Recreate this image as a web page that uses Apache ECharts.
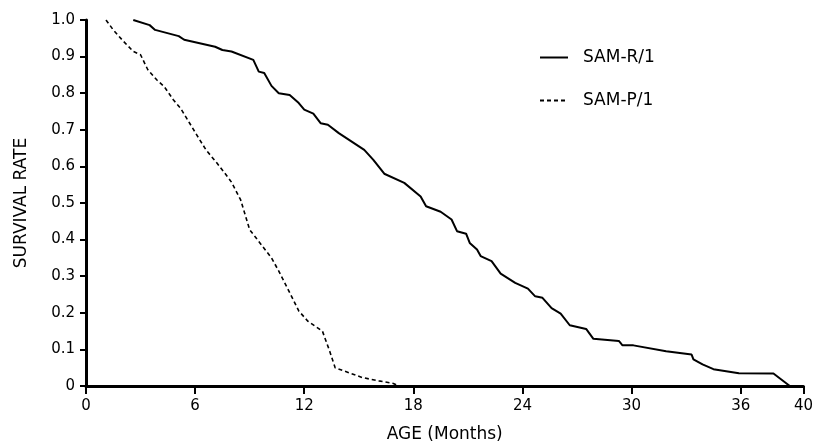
<!DOCTYPE html>
<html>
<head>
<meta charset="utf-8">
<script src="https://cdn.jsdelivr.net/npm/echarts@6/dist/echarts.min.js"></script>
<style>
  html, body { margin: 0; padding: 0; background: #fff; }
  #chart { width: 816px; height: 448px; }
</style>
</head>
<body>
<div id="chart"></div>
<script>
// 生存曲线 (SAM-R/1 vs SAM-P/1)
var seriesNames = ['SAM-R/1', 'SAM-P/1'];

var samRMonths = [2.6, 3.5, 3.8, 5.1, 5.4, 7.1, 7.5, 8.0, 9.2, 9.5, 9.8, 10.2, 10.6, 11.2, 11.7, 12.0, 12.5, 12.9, 13.3, 13.9,
    15.3, 15.8, 16.4, 17.5, 18.4, 18.7, 19.5, 20.1, 20.4, 20.9, 21.1, 21.5, 21.7, 22.3, 22.8, 23.6, 24.3, 24.7, 25.1, 25.6,
    26.1, 26.6, 27.5, 27.9, 29.3, 29.5, 30.1, 31.9, 33.3, 33.4, 33.9, 34.5, 35.9, 37.8, 38.7];
var samRRate = [1.0, 0.986, 0.973, 0.956, 0.946, 0.927, 0.918, 0.914, 0.891, 0.859, 0.855, 0.820, 0.800, 0.795, 0.773, 0.755, 0.744, 0.718, 0.714, 0.691,
    0.645, 0.618, 0.580, 0.555, 0.518, 0.491, 0.476, 0.455, 0.423, 0.416, 0.391, 0.373, 0.355, 0.341, 0.307, 0.282, 0.266, 0.245, 0.241, 0.213,
    0.198, 0.166, 0.156, 0.129, 0.123, 0.111, 0.111, 0.095, 0.086, 0.073, 0.059, 0.046, 0.035, 0.034, 0.0];

var samPMonths = [1.1, 1.5, 2.0, 2.6, 3.0, 3.4, 3.9, 4.3, 4.8, 5.2, 5.7, 6.2, 6.6, 7.2, 7.7, 8.0, 8.5, 9.0, 9.5, 10.2,
    10.6, 11.2, 11.7, 12.2, 13.0, 13.4, 13.7, 14.2, 15.2, 16.1, 16.9, 17.2];
var samPRate = [1.0, 0.973, 0.945, 0.914, 0.905, 0.864, 0.836, 0.818, 0.782, 0.759, 0.718, 0.677, 0.645, 0.609, 0.577, 0.557, 0.509, 0.427, 0.395, 0.350,
    0.314, 0.255, 0.205, 0.177, 0.150, 0.095, 0.050, 0.041, 0.023, 0.014, 0.007, 0.0];

var xTickStep = 6;
var xEnd = 39.45;      // 原图最后一个刻度(标 40)所在位置
var xEndLabel = '40';
var yTickStep = 0.1;

function pairs(xs, ys) {
    var out = [];
    for (var i = 0; i < xs.length; i++) out.push([xs[i], ys[i]]);
    return out;
}

var font = 'DejaVu Sans';
var myChart = echarts.init(document.getElementById('chart'), null, { renderer: 'canvas' });

var option = {
    backgroundColor: '#fff',
    animation: false,
    grid: { left: 86, right: 8, top: 20, bottom: 61 },
    legend: {
        orient: 'vertical',
        left: 534,
        top: 44,
        itemWidth: 28,
        itemHeight: 14,
        itemGap: 26,
        data: seriesNames,
        itemStyle: { opacity: 0 },
        textStyle: { color: '#000', fontFamily: font, fontSize: 17, padding: [0, 0, 0, 10] }
    },
    xAxis: {
        type: 'value',
        min: 0,
        max: xEnd,
        interval: xTickStep,
        name: 'AGE (Months)',
        nameLocation: 'middle',
        nameGap: 40,
        nameTextStyle: { color: '#000', fontFamily: font, fontSize: 17 },
        splitLine: { show: false },
        axisLine: { lineStyle: { color: '#000', width: 3 } },
        axisTick: { length: 8, lineStyle: { color: '#000', width: 2 } },
        axisLabel: {
            color: '#000', fontFamily: font, fontSize: 15, margin: 13,
            formatter: function (v) { return v >= xEnd - 0.01 ? xEndLabel : String(v); }
        }
    },
    yAxis: {
        type: 'value',
        min: 0,
        max: 1,
        interval: yTickStep,
        name: 'SURVIVAL RATE',
        nameLocation: 'middle',
        nameRotate: 90,
        nameGap: 56,
        nameTextStyle: { color: '#000', fontFamily: font, fontSize: 17 },
        splitLine: { show: false },
        axisLine: { show: true, lineStyle: { color: '#000', width: 3 } },
        axisTick: { show: true, length: 6, lineStyle: { color: '#000', width: 2 } },
        axisLabel: {
            color: '#000', fontFamily: font, fontSize: 15, margin: 11,
            formatter: function (v) { return v === 0 ? '0' : v.toFixed(1); }
        }
    },
    series: [{
        name: seriesNames[0],
        type: 'line',
        symbol: 'none',
        data: pairs(samRMonths, samRRate),
        lineStyle: { color: '#000', width: 2, type: 'solid' },
        itemStyle: { color: '#000' }
    }, {
        name: seriesNames[1],
        type: 'line',
        symbol: 'none',
        data: pairs(samPMonths, samPRate),
        lineStyle: { color: '#000', width: 1.6, type: [4, 3] },
        itemStyle: { color: '#000' }
    }]
};

myChart.setOption(option);
</script>
</body>
</html>
